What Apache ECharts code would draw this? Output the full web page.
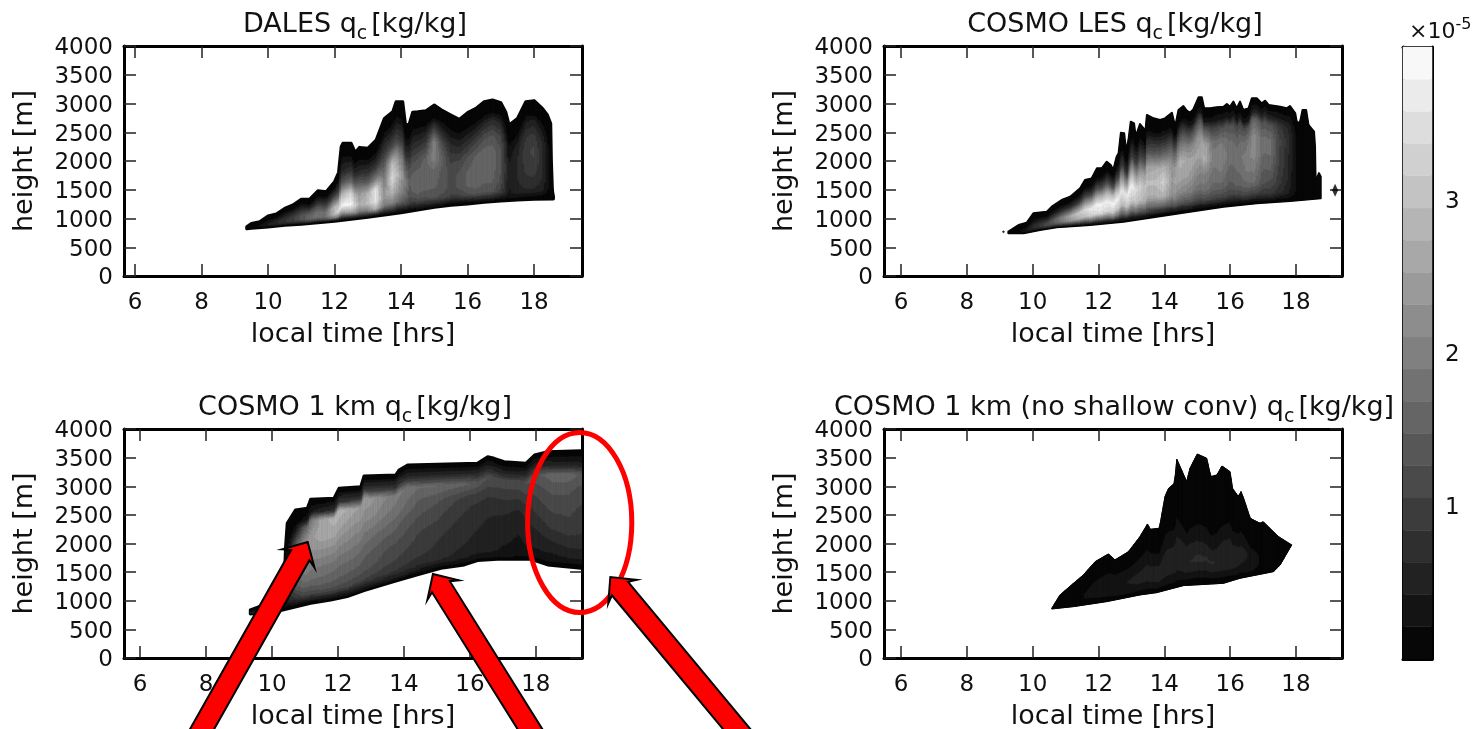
<!DOCTYPE html>
<html>
<head>
<meta charset="utf-8">
<title>qc contours</title>
<script src="https://cdn.jsdelivr.net/npm/echarts@6/dist/echarts.min.js"></script>
<style>
  html, body { margin: 0; padding: 0; background: #fff; }
  #chart { width: 1475px; height: 729px; }
</style>
</head>
<body>
<div id="chart"></div>
<script>
// all qc values are in units of 1e-5 kg/kg
var xTicks = [6, 8, 10, 12, 14, 16, 18];
var barTicks = [1, 2, 3];
var barMax = 4;
var bandCount = 19;
// relative height inside the cloud layer (0 = base, 1 = top) of each qc column
var fractions = [0.03, 0.1, 0.2, 0.35, 0.5, 0.65, 0.8, 0.88];

// ---- DALES
var dalesTop = [[9.36,858],[9.5,915],[9.75,945],[10,1043],[10.25,1078],[10.5,1176],[10.75,1235],[11,1333],[11.25,1333],[11.5,1484],[11.75,1466],[12,1640],[12.12,1800],[12.2,2250],[12.25,2307],[12.5,2307],[12.62,2150],[12.75,2237],[13,2220],[13.25,2365],[13.5,2742],[13.75,2857],[13.85,3030],[14.05,3032],[14.14,2600],[14.25,2655],[14.35,2850],[14.5,2857],[14.75,2875],[15,2974],[15.25,2875],[15.5,2800],[15.75,2725],[16,2840],[16.25,2915],[16.5,3032],[16.75,3060],[17,3015],[17.15,2850],[17.25,2626],[17.5,2742],[17.75,3032],[18,3050],[18.25,2915],[18.4,2800],[18.5,2650],[18.52,2000],[18.55,1500],[18.58,1380]];
var dalesBase = [[9.36,820],[9.5,829],[10,852],[10.5,881],[11,898],[11.5,927],[12,950],[12.5,985],[13,1020],[13.5,1060],[14,1100],[14.5,1147],[15,1194],[15.5,1229],[16,1252],[16.5,1281],[17,1304],[17.5,1322],[18,1333],[18.58,1340]];
var dalesQcTimes = [9.5,9.75,10,10.25,10.5,10.75,11,11.25,11.5,11.75,12,12.25,12.5,12.75,13,13.25,13.5,13.75,14,14.25,14.5,14.75,15,15.25,15.5,15.75,16,16.25,16.5,16.75,17,17.25,17.5,17.75,18,18.25,18.5];
var dalesQc = [
  [0,0,0,0,0,0,0,0],
  [0,.1,.2,.2,.2,.1,0,0],
  [.1,.3,.4,.4,.3,.2,.1,0],
  [.2,.4,.6,.6,.5,.3,.1,0],
  [.2,.5,.8,.8,.6,.4,.2,.1],
  [.2,.6,1,1,.8,.5,.2,.1],
  [.2,.8,1.3,1.3,1,.6,.3,.1],
  [.3,1,1.6,1.6,1.2,.6,.2,.1],
  [.3,1.2,1.9,1.7,1.3,.7,.3,.1],
  [.3,1.3,1.9,1.7,1.2,.7,.3,.1],
  [.4,2,3,3,2,1,.4,.1],
  [.5,2.4,3.9,2.8,1.3,.6,.3,.1],
  [.6,2.6,3.9,3.4,1.7,.8,.3,.1],
  [.5,2,2.8,2.4,1.5,.7,.3,.1],
  [.5,2,3,2.8,1.5,.8,.3,.1],
  [.6,2.8,3.7,3.7,1.9,.9,.3,.1],
  [.6,2,2.4,2,1.5,.9,.4,.1],
  [.5,2,2.8,3.5,3,1.3,.5,.2],
  [.4,1.6,2.2,2.6,2,1,.4,.1],
  [.3,1,1.4,1.5,1.2,.7,.3,.1],
  [.4,1.2,1.6,1.6,1.3,.8,.3,.1],
  [.4,1.2,1.5,1.5,1.6,1,.4,.1],
  [.4,1.3,1.5,1.6,2.1,2,.8,.2],
  [.4,1.2,1.4,1.4,1.5,1.2,.5,.2],
  [.3,1,1.2,1.2,1,.7,.3,.1],
  [.3,1,1.3,1.3,1.1,.7,.3,.1],
  [.3,1.2,1.5,1.5,1.3,.8,.3,.1],
  [.4,1.3,1.6,1.6,1.5,1,.4,.1],
  [.4,1.3,1.5,1.6,1.6,1.2,.5,.1],
  [.4,1.3,1.5,1.6,1.6,1.3,.7,.2],
  [.3,1,1.2,1.3,1.3,1.1,.6,.2],
  [.2,.4,.4,.5,.4,.3,.1,.1],
  [.2,.5,.6,.6,.6,.5,.2,.1],
  [.2,.6,.8,.9,1,.8,.4,.1],
  [.2,.6,.8,1,1.1,.9,.5,.1],
  [.1,.5,.6,.7,.7,.6,.3,.1],
  [0,.1,.1,.1,.1,.1,0,0]
];

// ---- COSMO LES
var lesTop = [[9.26,771],[9.57,887],[9.82,927],[10.02,1090],[10.43,1119],[10.58,1206],[10.88,1321],[11.14,1379],[11.44,1524],[11.59,1669],[11.79,1698],[11.95,1872],[12.1,1872],[12.25,1988],[12.37,1930],[12.45,1843],[12.55,2075],[12.61,2133],[12.68,2492],[12.78,2481],[12.84,2162],[12.91,2365],[12.98,2684],[13.08,2655],[13.13,2423],[13.26,2643],[13.37,2568],[13.42,2481],[13.47,2800],[13.67,2742],[13.87,2713],[14.02,2742],[14.23,2840],[14.33,2597],[14.43,2887],[14.58,2956],[14.68,2875],[14.78,2840],[14.88,2898],[15.04,3107],[15.14,3107],[15.21,2916],[15.39,2916],[15.59,2933],[15.8,2945],[15.9,2991],[16,2945],[16.1,3032],[16.2,2916],[16.3,3032],[16.4,2887],[16.56,2916],[16.66,3090],[16.81,3090],[16.96,3003],[17.06,3049],[17.17,2974],[17.52,2945],[17.72,2916],[17.82,2956],[17.98,2829],[18.03,2655],[18.13,2684],[18.2,2887],[18.31,2887],[18.38,2626],[18.55,2510],[18.58,2249],[18.6,1550],[18.64,1700],[18.7,1790],[18.75,1730]];
var lesBase = [[9.26,742],[9.72,742],[10.22,800],[10.73,846],[11.74,887],[12.76,945],[13.77,1032],[14.78,1119],[15.8,1206],[16.81,1264],[17.82,1304],[18.75,1350]];
var lesQcTimes = [9.25,9.5,9.75,10,10.25,10.5,10.75,11,11.25,11.5,11.75,12,12.25,12.5,12.75,13,13.25,13.5,13.75,14,14.25,14.5,14.75,15,15.25,15.5,15.75,16,16.25,16.5,16.75,17,17.25,17.5,17.75,18,18.25,18.5,18.75];
var lesQc = [
  [0,0,0,0,0,0,0,0],
  [0,.1,.1,.1,.1,.1,0,0],
  [.1,.2,.3,.3,.2,.1,0,0],
  [.1,.4,.6,.6,.4,.2,.1,0],
  [.1,.5,.9,.9,.6,.3,.1,0],
  [.2,.7,1.2,1.2,.8,.4,.1,0],
  [.2,.9,1.6,1.7,1.1,.5,.2,.1],
  [.3,1.1,2.1,2.3,1.5,.7,.2,.1],
  [.3,1.2,2.5,2.9,1.9,.8,.3,.1],
  [.3,1.4,2.9,3.3,2.2,1,.3,.1],
  [.4,1.6,3.2,3.7,2.5,1.1,.3,.1],
  [.4,1.8,3.5,3.9,2.7,1.2,.3,.1],
  [.4,1.8,3.4,3.8,2.8,1.3,.4,.1],
  [.4,1.8,3.2,3.9,3,1.3,.4,.1],
  [.4,1.6,3,3.6,2.2,.8,.2,.1],
  [.4,1.7,3.2,3.9,2.6,1,.3,.1],
  [.4,1.6,3,3.3,2.4,1.1,.4,.1],
  [.4,1.5,2.7,3,2.6,1.3,.5,.1],
  [.3,1.5,2.7,3,2.7,1.4,.5,.1],
  [.3,1.5,2.8,3.3,2.8,1.5,.6,.2],
  [.3,1.4,2.3,2.5,2.3,1.5,.5,.1],
  [.3,1.4,2.2,2.7,2.8,1.9,.8,.2],
  [.3,1.3,2,2.5,2.7,2.1,1,.3],
  [.3,1.2,1.8,2.2,2.6,2.3,1.2,.3],
  [.3,1.2,1.8,2.1,2.8,2.6,1.3,.3],
  [.3,1.1,1.6,1.8,2,1.8,1,.3],
  [.3,1.1,1.6,1.9,2.1,1.9,1.2,.4],
  [.3,1,1.4,1.6,1.8,1.7,1.3,.4],
  [.3,1,1.5,1.7,1.8,1.6,1.1,.3],
  [.3,1.1,1.6,1.9,2,1.8,1.2,.3],
  [.3,1.1,1.7,2,2.3,2.2,1.6,.5],
  [.3,.9,1.3,1.5,1.7,1.7,1.3,.5],
  [.3,.9,1.2,1.5,1.7,1.7,1.3,.5],
  [.2,.7,.9,1,1.1,1.1,.9,.4],
  [.2,.5,.6,.7,.7,.8,.6,.3],
  [.1,.2,.2,.2,.2,.2,.2,.1],
  [.1,.1,.2,.2,.2,.2,.2,.1],
  [.1,.1,.1,.1,.1,.1,.1,0],
  [0,0,0,0,0,0,0,0]
];
var lesSpecks = [[9.11,770],[19.19,1490]];

// ---- COSMO 1 km
var km1Top = [[9.34,840],[9.75,927],[10.31,956],[10.38,1480],[10.41,1946],[10.46,2353],[10.71,2586],[11.07,2615],[11.17,2772],[11.88,2790],[12.03,2964],[12.69,2993],[12.79,3179],[13.75,3197],[13.85,3284],[14.11,3372],[16.23,3401],[16.54,3517],[16.74,3488],[17.04,3430],[17.7,3401],[17.96,3546],[18.36,3604],[19.37,3622],[19.5,3622]];
var km1Base = [[9.34,770],[10.26,828],[11.17,956],[11.78,1014],[12.28,1072],[12.79,1177],[13.7,1334],[14.41,1451],[15.12,1567],[15.83,1626],[16.23,1701],[16.84,1724],[17.85,1724],[18.36,1626],[19.37,1567],[19.5,1560]];
var km1QcTimes = [9.5,10,10.3,10.5,10.75,11,11.5,12,12.5,13,13.5,14,14.5,15,15.5,16,16.5,17,17.5,18,18.5,19,19.5];
var km1Qc = [
  [.1,.3,.5,.6,.5,.3,.1,0],
  [.2,.5,.9,1.1,.9,.5,.2,.1],
  [.1,.2,.3,.3,.3,.2,.1,0],
  [.2,.6,.7,.6,.5,.3,.1,0],
  [.3,.9,1.4,1.7,1.9,1.5,.4,.1],
  [.3,1.1,1.6,2,2.3,2.3,1.5,.3],
  [.4,1.2,1.6,1.9,2.3,2.7,2.6,.6],
  [.4,1.2,1.5,1.8,2.2,2.6,2.9,.8],
  [.4,1.1,1.4,1.7,2,2.3,2.6,.9],
  [.4,1,1.3,1.5,1.8,2.2,2.4,.9],
  [.4,.9,1.1,1.3,1.6,1.9,2.1,.9],
  [.4,.8,1,1.2,1.4,1.7,1.9,.8],
  [.3,.7,.9,1,1.2,1.4,1.7,.8],
  [.3,.7,.8,.9,1.1,1.3,1.7,.8],
  [.3,.6,.7,.8,.9,1.1,1.6,.8],
  [.3,.5,.6,.7,.8,.9,1.5,.8],
  [.3,.5,.5,.6,.7,.9,1.3,.7],
  [.3,.4,.45,.5,.7,.9,1.2,.6],
  [.2,.4,.4,.45,.6,.9,1.2,.6],
  [.2,.4,.5,.7,.9,1.1,1.4,.7],
  [.2,.4,.6,.9,1.1,1.3,1.6,.6],
  [.2,.5,.7,1,1.1,1.3,1.6,.6],
  [.2,.5,.7,.9,1,1.1,1.4,.5]
];

// ---- COSMO 1 km, no shallow convection
var noscTop = [[10.58,869],[10.83,1102],[11.24,1305],[11.54,1451],[11.9,1684],[12.3,1817],[12.5,1713],[12.91,1858],[13.26,2120],[13.49,2341],[13.57,2248],[13.85,2266],[14.02,2819],[14.13,2964],[14.31,3051],[14.38,3470],[14.68,3080],[14.78,3313],[15,3564],[15.29,3488],[15.41,3168],[15.6,3197],[15.75,3354],[16,3255],[16.07,2964],[16.25,2819],[16.33,2906],[16.41,2790],[16.61,2440],[16.91,2353],[17,2382],[17.47,2120],[17.87,1975]];
var noscBase = [[10.58,857],[11.24,898],[12.25,985],[13.26,1102],[13.77,1142],[14.58,1265],[15.8,1305],[16.3,1393],[17.32,1509],[17.52,1626],[17.87,1975]];
var noscQcTimes = [10.5,11,11.5,12,12.5,13,13.5,14,14.5,15,15.5,16,16.5,17,17.5,18];
var noscQc = [
  [0,0,0,0,0,0,0,0],
  [.1,.1,.15,.15,.1,.1,0,0],
  [.1,.15,.2,.2,.15,.1,.05,0],
  [.1,.2,.25,.3,.25,.15,.05,0],
  [.1,.2,.3,.35,.3,.2,.05,0],
  [.1,.25,.4,.45,.3,.2,.1,0],
  [.1,.25,.45,.5,.35,.2,.1,0],
  [.1,.35,.5,.5,.3,.15,.05,0],
  [.1,.35,.55,.5,.25,.1,.05,0],
  [.1,.4,.7,.4,.15,.05,0,0],
  [.1,.4,.65,.35,.15,.05,0,0],
  [.1,.4,.55,.5,.25,.1,0,0],
  [.1,.3,.4,.45,.25,.1,0,0],
  [.05,.1,.15,.15,.1,.05,0,0],
  [0,.05,.05,.05,0,0,0,0],
  [0,0,0,0,0,0,0,0]
];

// annotations drawn on the COSMO 1 km axes: tip t, tip h, tail t, tail h
var arrows = [
  [11.08, 2027, 7.88, -1240],
  [14.88, 1467, 17.82, -1240],
  [20.26, 1415, 24.09, -1240]
];
var ellipseCentre = [19.33, 2367];
var ellipseRadius = [1.58, 1572];

var chart = echarts.init(document.getElementById('chart'));

var frames = [
  { left: 124, top: 46, height: 230, xMin: 5.67, xMax: 19.44, name: 'DALES', tx: 350, edge: 3, top_: dalesTop, base: dalesBase, times: dalesQcTimes, qc: dalesQc },
  { left: 884, top: 46, height: 230, xMin: 5.48, xMax: 19.4, name: 'COSMO LES', tx: 1110, edge: 2, top_: lesTop, base: lesBase, times: lesQcTimes, qc: lesQc },
  { left: 124, top: 429, height: 229, xMin: 5.51, xMax: 19.4, name: 'COSMO 1 km', tx: 350, edge: 3, top_: km1Top, base: km1Base, times: km1QcTimes, qc: km1Qc },
  { left: 884, top: 429, height: 229, xMin: 5.48, xMax: 19.4, name: 'COSMO 1 km (no shallow conv)', tx: 1109, edge: 1, top_: noscTop, base: noscBase, times: noscQcTimes, qc: noscQc }
];

function lerpPairs(list, t) {
  if (t <= list[0][0]) return list[0][1];
  for (var i = 1; i < list.length; i++) {
    if (t <= list[i][0]) {
      var a = list[i - 1], b = list[i];
      return a[1] + (b[1] - a[1]) * (t - a[0]) / (b[0] - a[0]);
    }
  }
  return list[list.length - 1][1];
}

// qc at a time and relative height, zero at cloud edge
function qcAt(p, t, f) {
  var times = p.times, i = 0;
  while (i < times.length - 2 && t > times[i + 1]) i++;
  var w = Math.max(0, Math.min(1, (t - times[i]) / (times[i + 1] - times[i])));
  var fr = [0].concat(fractions, [1]);
  var j = 0;
  while (j < fr.length - 2 && f > fr[j + 1]) j++;
  var w2 = (f - fr[j]) / (fr[j + 1] - fr[j]);
  var col = function (r) {
    var row = [0].concat(p.qc[r], [0]);
    return row[j] + (row[j + 1] - row[j]) * w2;
  };
  return col(i) * (1 - w) + col(i + 1) * w;
}

function bandColor(i) {
  var g = Math.round((i + 0.5) / bandCount * 255);
  return 'rgb(' + g + ',' + g + ',' + g + ')';
}

function bandOf(v) {
  return Math.max(0, Math.min(bandCount - 1, Math.floor(v / barMax * bandCount)));
}

var stepT = 0.05, stepF = 1 / 90;

function renderContour(p) {
  return function (params, api) {
    var t0 = api.value(0), t1 = t0 + stepT;
    var b0 = lerpPairs(p.base, t0), b1 = lerpPairs(p.base, t1);
    var h0 = lerpPairs(p.top_, t0), h1 = lerpPairs(p.top_, t1);
    if (h0 < b0) h0 = b0;
    if (h1 < b1) h1 = b1;
    var tm = t0 + stepT / 2;
    var shapes = [];
    var start = 0, cur = bandOf(qcAt(p, tm, stepF / 2));
    var push = function (f0, f1, band) {
      shapes.push({
        type: 'polygon',
        shape: { points: [
          api.coord([t0, b0 + (h0 - b0) * f0]),
          api.coord([t0, b0 + (h0 - b0) * f1]),
          api.coord([t1, b1 + (h1 - b1) * f1]),
          api.coord([t1, b1 + (h1 - b1) * f0])
        ] },
        style: { fill: bandColor(band), stroke: bandColor(band), lineWidth: 0.7 }
      });
    };
    for (var f = stepF; f < 1 - 1e-6; f += stepF) {
      var b = bandOf(qcAt(p, tm, f + stepF / 2));
      if (b !== cur) {
        push(start, f, cur);
        start = f;
        cur = b;
      }
    }
    push(start, 1, cur);
    return { type: 'group', children: shapes };
  };
}

// black rim of the cloud, drawn below the filled bands
function renderRim(p) {
  return function (params, api) {
    var pts = [];
    p.top_.forEach(function (d) { pts.push(api.coord(d)); });
    p.base.slice().reverse().forEach(function (d) { pts.push(api.coord(d)); });
    return {
      type: 'polygon',
      shape: { points: pts },
      style: { fill: '#050505', stroke: '#050505', lineWidth: p.edge, lineJoin: 'round' }
    };
  };
}

function renderColumns(p) {
  var out = [];
  var tEnd = p.top_[p.top_.length - 1][0];
  for (var t = p.top_[0][0]; t < tEnd - 1e-6; t += stepT) out.push([t]);
  return out;
}

function renderArrow(params, api) {
  var tip = api.coord([api.value(0), api.value(1)]);
  var tail = api.coord([api.value(2), api.value(3)]);
  var dx = tail[0] - tip[0], dy = tail[1] - tip[1];
  var len = Math.sqrt(dx * dx + dy * dy) + 40;
  var ux = dx / Math.sqrt(dx * dx + dy * dy), uy = dy / Math.sqrt(dx * dx + dy * dy), nx = -uy, ny = ux;
  var at = function (along, side) {
    return [tip[0] + ux * along + nx * side, tip[1] + uy * along + ny * side];
  };
  return {
    type: 'polygon',
    shape: { points: [at(0, 0), at(19, 18.5), at(15, 10.5), at(len, 10.5), at(len, -10.5), at(15, -10.5), at(19, -18.5)] },
    style: { fill: '#ff0000', stroke: '#000', lineWidth: 2, lineJoin: 'miter' }
  };
}

function renderEllipse(params, api) {
  var c = api.coord([api.value(0), api.value(1)]);
  var edge = api.coord([api.value(0) + api.value(2), api.value(1) + api.value(3)]);
  return {
    type: 'ellipse',
    shape: { cx: c[0], cy: c[1], rx: edge[0] - c[0], ry: c[1] - edge[1] },
    style: { fill: null, stroke: '#ff0000', lineWidth: 5 }
  };
}

var textColor = '#111';
var frameLine = { show: true, onZero: false, lineStyle: { color: '#000', width: 3 } };

var option = {
  backgroundColor: '#fff',
  animation: false,
  grid: [],
  xAxis: [],
  yAxis: [],
  title: [],
  series: []
};

frames.forEach(function (p, i) {
  option.grid.push({ left: p.left, top: p.top, width: 458, height: p.height, outerBoundsMode: 'none' });
  var tickStyle = { show: true, inside: true, length: 12, lineStyle: { color: '#222', width: 1.5 }, customValues: xTicks };
  option.xAxis.push({
    type: 'value', gridIndex: i, min: p.xMin, max: p.xMax, position: 'bottom',
    name: 'local time [hrs]', nameLocation: 'middle', nameGap: 45,
    nameTextStyle: { fontFamily: 'DejaVu Sans', fontSize: 27, color: textColor },
    axisLine: frameLine, axisTick: tickStyle, splitLine: { show: false },
    axisLabel: { customValues: xTicks, fontFamily: 'DejaVu Sans', fontSize: 23, color: textColor, margin: 16, hideOverlap: false }
  });
  option.xAxis.push({
    type: 'value', gridIndex: i, min: p.xMin, max: p.xMax, position: 'top',
    axisLine: frameLine, axisTick: tickStyle, splitLine: { show: false }, axisLabel: { show: false }
  });
  var yTick = { show: true, inside: true, length: 12, lineStyle: { color: '#222', width: 1.5 } };
  option.yAxis.push({
    type: 'value', gridIndex: i, min: 0, max: 4000, interval: 500, position: 'left',
    name: 'height [m]', nameLocation: 'middle', nameGap: 86,
    nameTextStyle: { fontFamily: 'DejaVu Sans', fontSize: 27, color: textColor },
    axisLine: frameLine, axisTick: yTick, splitLine: { show: false },
    axisLabel: { fontFamily: 'DejaVu Sans', fontSize: 23, color: textColor, margin: 11, verticalAlign: 'top', lineHeight: 5, formatter: function (v) { return String(v); } }
  });
  option.yAxis.push({
    type: 'value', gridIndex: i, min: 0, max: 4000, interval: 500, position: 'right',
    axisLine: frameLine, axisTick: yTick, splitLine: { show: false }, axisLabel: { show: false }
  });
  option.title.push({
    text: p.name + ' q{sub|c}{n|[kg/kg]}',
    left: p.tx, top: p.top - 45, textAlign: 'center',
    textStyle: {
      fontFamily: 'DejaVu Sans', fontSize: 27, fontWeight: 'normal', color: textColor, lineHeight: 38,
      rich: {
        sub: { fontFamily: 'DejaVu Sans', fontSize: 19, color: textColor, verticalAlign: 'bottom', lineHeight: 24 },
        n: { fontFamily: 'DejaVu Sans', fontSize: 27, color: textColor, lineHeight: 38, padding: [0, 0, 0, 4] }
      }
    }
  });
  option.series.push({
    type: 'custom', xAxisIndex: i * 2, yAxisIndex: i * 2, clip: true, silent: true,
    coordinateSystem: 'cartesian2d',
    renderItem: renderRim(p), data: [[p.top_[0][0], p.top_[0][1]]]
  });
  option.series.push({
    type: 'custom', xAxisIndex: i * 2, yAxisIndex: i * 2, clip: true, silent: true,
    coordinateSystem: 'cartesian2d',
    renderItem: renderContour(p), data: renderColumns(p)
  });
});

option.series.push({
  type: 'scatter', xAxisIndex: 2, yAxisIndex: 2, data: lesSpecks, symbol: 'diamond',
  symbolSize: function (v, param) { return param.dataIndex ? [6, 13] : [3, 3]; },
  itemStyle: { color: '#000' }, silent: true
});

// red marks over the COSMO 1 km panel
option.series.push({
  type: 'custom', xAxisIndex: 4, yAxisIndex: 4, clip: false, z: 40, silent: true,
  renderItem: renderEllipse,
  data: [[ellipseCentre[0], ellipseCentre[1], ellipseRadius[0], ellipseRadius[1]]]
});
option.series.push({
  type: 'custom', xAxisIndex: 4, yAxisIndex: 4, clip: false, z: 41, silent: true,
  renderItem: renderArrow, data: arrows
});

// colour bar
var barBands = [];
for (var i = 0; i < bandCount; i++) barBands.push([i * barMax / bandCount, (i + 1) * barMax / bandCount, i]);
option.grid.push({ left: 1403, top: 47, width: 29, height: 612, outerBoundsMode: 'none' });
option.xAxis.push({
  type: 'value', gridIndex: 4, min: 0, max: 1, position: 'bottom',
  axisLine: frameLine, axisTick: { show: false }, axisLabel: { show: false }, splitLine: { show: false }
});
option.xAxis.push({
  type: 'value', gridIndex: 4, min: 0, max: 1, position: 'top',
  axisLine: frameLine, axisTick: { show: false }, axisLabel: { show: false }, splitLine: { show: false }
});
option.yAxis.push({
  type: 'value', gridIndex: 4, min: 0, max: barMax, position: 'right',
  axisLine: frameLine, splitLine: { show: false },
  axisTick: { show: true, inside: true, length: 12, lineStyle: { color: '#222', width: 1.5 }, customValues: barTicks },
  axisLabel: { customValues: barTicks, fontFamily: 'DejaVu Sans', fontSize: 23, color: textColor, margin: 13, verticalAlign: 'top', lineHeight: 5 }
});
option.yAxis.push({
  type: 'value', gridIndex: 4, min: 0, max: barMax, position: 'left',
  axisLine: frameLine, axisTick: { show: false }, axisLabel: { show: false }, splitLine: { show: false }
});
option.series.push({
  type: 'custom', xAxisIndex: 8, yAxisIndex: 8, silent: true,
  renderItem: function (params, api) {
    var a = api.coord([0, api.value(0)]), b = api.coord([1, api.value(1)]);
    var c = bandColor(api.value(2));
    return { type: 'rect', shape: { x: a[0], y: b[1], width: b[0] - a[0], height: a[1] - b[1] }, style: { fill: c, stroke: c, lineWidth: 0.5 } };
  },
  data: barBands
});
option.title.push({
  text: '\u00d710{sup|-5}', left: 1404, top: 12,
  textStyle: {
    fontFamily: 'DejaVu Sans', fontSize: 22, fontWeight: 'normal', color: textColor, lineHeight: 30,
    rich: { sup: { fontFamily: 'DejaVu Sans', fontSize: 16, color: textColor, verticalAlign: 'top', lineHeight: 20 } }
  }
});

chart.setOption(option);
</script>
</body>
</html>
